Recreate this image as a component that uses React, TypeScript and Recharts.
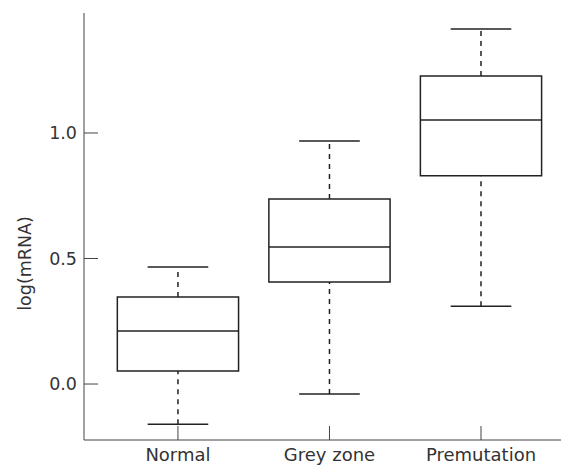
import { ComposedChart, XAxis, YAxis, ReferenceArea, ReferenceLine } from "recharts"

const groups = ["Normal", "Grey zone", "Premutation"]
const whiskerLow = [-0.16, -0.04, 0.31]
const q1 = [0.052, 0.406, 0.83]
const median = [0.211, 0.546, 1.052]
const q3 = [0.347, 0.737, 1.227]
const whiskerHigh = [0.466, 0.968, 1.414]
const yTicks = [0, 0.5, 1]

const FONT = "'DejaVu Sans', sans-serif"
const INK = "#222"
const BOX_HALF = 0.4
const CAP_HALF = 0.2

const XTick = ({ x, y, payload }: any) => (
  <g>
    <line x1={x} x2={x} y1={y} y2={y - 14} stroke="#444" strokeWidth={1} />
    <text x={x} y={y + 21} textAnchor="middle" fontFamily={FONT} fontSize={18} fill="#333">
      {groups[payload.value - 1]}
    </text>
  </g>
)

const YTick = ({ x, y, payload }: any) => (
  <g>
    <line x1={x} x2={x + 14} y1={y} y2={y} stroke="#444" strokeWidth={1} />
    <text x={x - 7} y={y} dy="0.36em" textAnchor="end" fontFamily={FONT} fontSize={17.5} fill="#333">
      {payload.value.toFixed(1)}
    </text>
  </g>
)

// label sits a bit below the plot's middle in the original
const YLabel = ({ viewBox }: any) => {
  const cy = viewBox.y + viewBox.height / 2 + 37
  return (
    <text x={31} y={cy} transform={`rotate(-90, 31, ${cy})`} textAnchor="middle" fontFamily={FONT} fontSize={17.5} fill="#333">
      log(mRNA)
    </text>
  )
}

export default function App() {
  const data = groups.map((name, i) => ({ x: i + 1, name }))

  return (
    <div style={{ position: "absolute", left: 0, top: 0, background: "#fff" }}>
      <ComposedChart width={561} height={465} data={data} margin={{ top: 13, right: 0, bottom: 0, left: 0 }}>
        <XAxis
          type="number"
          dataKey="x"
          domain={[0.38, 3.528]}
          allowDataOverflow
          ticks={[1, 2, 3]}
          height={25}
          tickSize={0}
          tickMargin={0}
          tickLine={false}
          tick={<XTick />}
          axisLine={{ stroke: "#444", strokeWidth: 1 }}
          interval={0}
        />
        <YAxis
          type="number"
          domain={[-0.223, 1.478]}
          allowDataOverflow
          ticks={yTicks}
          width={84}
          tickSize={0}
          tickMargin={0}
          tickLine={false}
          tick={<YTick />}
          axisLine={{ stroke: "#444", strokeWidth: 1 }}
          interval={0}
          label={{ content: <YLabel /> }}
        />
        {groups.map((g, i) => {
          const c = i + 1
          return [
            <ReferenceLine
              key={`wl-${g}`}
              segment={[{ x: c, y: whiskerLow[i] }, { x: c, y: q1[i] }]}
              stroke={INK}
              strokeWidth={1.5}
              strokeDasharray="5 5"
              ifOverflow="visible"
            />,
            <ReferenceLine
              key={`wh-${g}`}
              segment={[{ x: c, y: q3[i] }, { x: c, y: whiskerHigh[i] }]}
              stroke={INK}
              strokeWidth={1.5}
              strokeDasharray="5 5"
              ifOverflow="visible"
            />,
            <ReferenceLine
              key={`cl-${g}`}
              segment={[{ x: c - CAP_HALF, y: whiskerLow[i] }, { x: c + CAP_HALF, y: whiskerLow[i] }]}
              stroke={INK}
              strokeWidth={1.5}
              ifOverflow="visible"
            />,
            <ReferenceLine
              key={`ch-${g}`}
              segment={[{ x: c - CAP_HALF, y: whiskerHigh[i] }, { x: c + CAP_HALF, y: whiskerHigh[i] }]}
              stroke={INK}
              strokeWidth={1.5}
              ifOverflow="visible"
            />,
            <ReferenceArea
              key={`box-${g}`}
              x1={c - BOX_HALF}
              x2={c + BOX_HALF}
              y1={q1[i]}
              y2={q3[i]}
              fill="#fff"
              fillOpacity={1}
              stroke={INK}
              strokeWidth={1.5}
              ifOverflow="visible"
            />,
            <ReferenceLine
              key={`md-${g}`}
              segment={[{ x: c - BOX_HALF, y: median[i] }, { x: c + BOX_HALF, y: median[i] }]}
              stroke={INK}
              strokeWidth={1.5}
              ifOverflow="visible"
            />,
          ]
        })}
      </ComposedChart>
    </div>
  )
}
